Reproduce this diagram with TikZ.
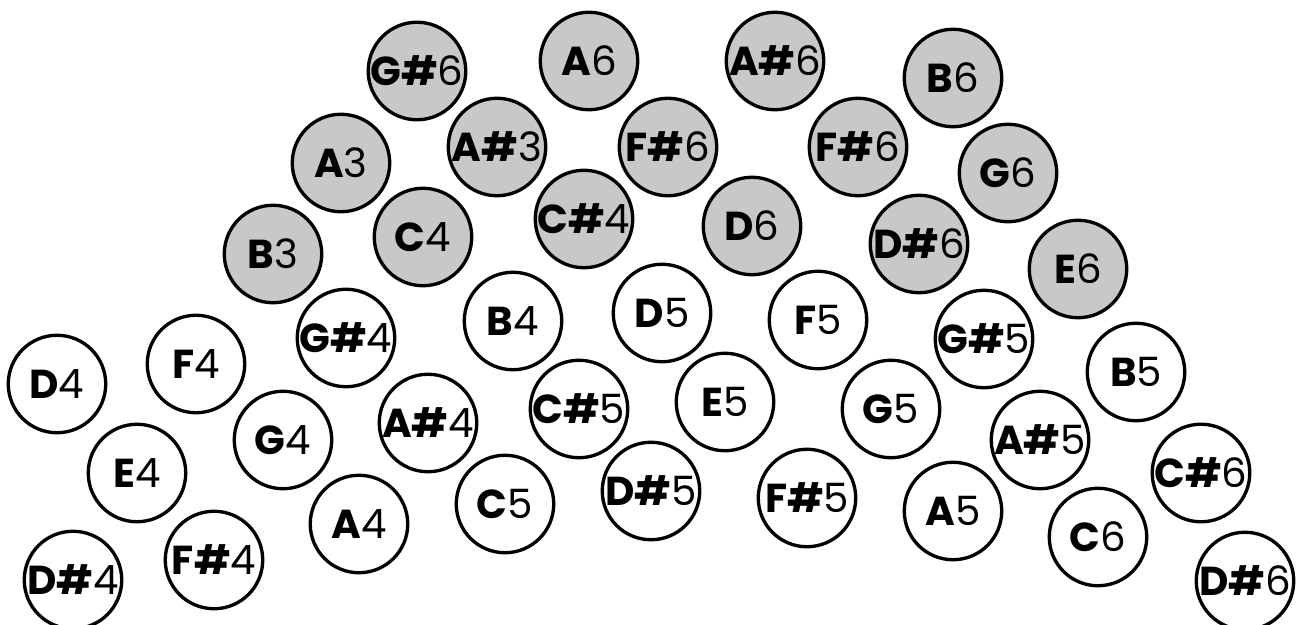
\documentclass[tikz,border=0pt]{standalone}
\usepackage{fontspec}
\setmainfont{Poppins}
\usepackage{tikz}
\definecolor{keygray}{RGB}{200,200,200}
\newcommand{\btn}[2]{{\bfseries #1}#2}
\tikzset{
  btnw/.style={circle, draw=black, line width=1.9pt, fill=white, minimum size=1.95cm, inner sep=0pt, font=\fontsize{23}{26}\selectfont},
  btng/.style={btnw, fill=keygray}
}

\begin{document}
\begin{tikzpicture}[x=0.02cm,y=-0.02cm]
\useasboundingbox (0,0) rectangle (1302,625);

% gray buttons
\node[btng] (gs6) at (417,71) {\btn{G\#}{6}};
\node[btng] (a6) at (589,61) {\btn{A}{6}};
\node[btng] (as6) at (775,61) {\btn{A\#}{6}};
\node[btng] (b6) at (953,78) {\btn{B}{6}};
\node[btng] (a3) at (341,163) {\btn{A}{3}};
\node[btng] (as3) at (497,147) {\btn{A\#}{3}};
\node[btng] (fs6a) at (668,147) {\btn{F\#}{6}};
\node[btng] (fs6b) at (858,147) {\btn{F\#}{6}};
\node[btng] (g6) at (1008,173) {\btn{G}{6}};
\node[btng] (b3) at (273,254) {\btn{B}{3}};
\node[btng] (c4) at (423,237) {\btn{C}{4}};
\node[btng] (cs4) at (584,219) {\btn{C\#}{4}};
\node[btng] (d6) at (752,226) {\btn{D}{6}};
\node[btng] (ds6g) at (919,244) {\btn{D\#}{6}};
\node[btng] (e6) at (1078,269) {\btn{E}{6}};

% white buttons
\node[btnw] (d4) at (57,384) {\btn{D}{4}};
\node[btnw] (e4) at (137,473) {\btn{E}{4}};
\node[btnw] (ds4) at (73,580) {\btn{D\#}{4}};
\node[btnw] (f4) at (196,364) {\btn{F}{4}};
\node[btnw] (fs4) at (214,560) {\btn{F\#}{4}};
\node[btnw] (g4) at (283,440) {\btn{G}{4}};
\node[btnw] (gs4) at (346,338) {\btn{G\#}{4}};
\node[btnw] (a4) at (359,524) {\btn{A}{4}};
\node[btnw] (as4) at (428,423) {\btn{A\#}{4}};
\node[btnw] (b4) at (513,321) {\btn{B}{4}};
\node[btnw] (c5) at (505,504) {\btn{C}{5}};
\node[btnw] (cs5) at (579,409) {\btn{C\#}{5}};
\node[btnw] (d5) at (662,313) {\btn{D}{5}};
\node[btnw] (ds5) at (651,491) {\btn{D\#}{5}};
\node[btnw] (e5) at (725,402) {\btn{E}{5}};
\node[btnw] (f5) at (818,320) {\btn{F}{5}};
\node[btnw] (fs5) at (807,498) {\btn{F\#}{5}};
\node[btnw] (g5) at (891,409) {\btn{G}{5}};
\node[btnw] (gs5) at (984,339) {\btn{G\#}{5}};
\node[btnw] (a5) at (953,511) {\btn{A}{5}};
\node[btnw] (as5) at (1040,440) {\btn{A\#}{5}};
\node[btnw] (b5) at (1136,372) {\btn{B}{5}};
\node[btnw] (c6) at (1098,537) {\btn{C}{6}};
\node[btnw] (cs6) at (1201,473) {\btn{C\#}{6}};
\node[btnw] (ds6w) at (1245,581) {\btn{D\#}{6}};
\end{tikzpicture}
\end{document}
